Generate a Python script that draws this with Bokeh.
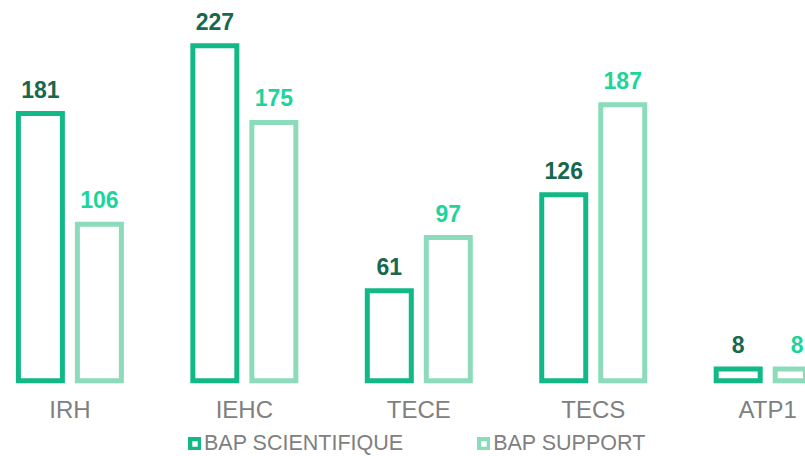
from bokeh.plotting import figure
from bokeh.models import ColumnDataSource, Range1d, Legend, LegendItem
from bokeh.core.properties import value
from bokeh.embed import file_html
from bokeh.resources import INLINE

categories = ["IRH", "IEHC", "TECE", "TECS", "ATP1"]
bap_scientifique = [181, 227, 61, 126, 8]
bap_support = [106, 175, 97, 187, 8]
series_names = ["BAP SCIENTIFIQUE", "BAP SUPPORT"]

SCI_LINE = "#12b886"
SCI_LABEL = "#17684d"
SUP_LINE = "#8cdcbb"
SUP_LABEL = "#1dd59b"
GRAY = "#808080"
FONT = "Liberation Sans"

xs = list(range(len(categories)))
off = 0.1691
bw = 0.2522

src_sci = ColumnDataSource(dict(x=[i - off for i in xs], top=bap_scientifique,
                                lab=[str(v) for v in bap_scientifique]))
src_sup = ColumnDataSource(dict(x=[i + off for i in xs], top=bap_support,
                                lab=[str(v) for v in bap_support]))
src_cat = ColumnDataSource(dict(x=xs, y=[0] * len(xs), t=categories))

p = figure(width=805, height=456, output_backend="svg", toolbar_location=None,
           x_range=Range1d(-0.3978, 4.2167), y_range=Range1d(-51.36, 257.6),
           min_border=0, min_border_left=0, min_border_right=0,
           min_border_top=0, min_border_bottom=0)
p.axis.visible = False
p.grid.visible = False
p.outline_line_color = None
p.background_fill_color = "white"
p.border_fill_color = "white"

r_sci = p.vbar(x="x", top="top", bottom=0, width=bw, source=src_sci,
               fill_color=None, line_color=SCI_LINE, line_width=5, line_join="miter")
r_sup = p.vbar(x="x", top="top", bottom=0, width=bw, source=src_sup,
               fill_color=None, line_color=SUP_LINE, line_width=5, line_join="miter")

p.text(x="x", y="top", text="lab", source=src_sci, text_align="center",
       text_baseline="alphabetic", y_offset=-24.5, text_font=value(FONT),
       text_font_size="23px", text_font_style="bold", text_color=SCI_LABEL)
p.text(x="x", y="top", text="lab", source=src_sup, text_align="center",
       text_baseline="alphabetic", y_offset=-24.5, text_font=value(FONT),
       text_font_size="23px", text_font_style="bold", text_color=SUP_LABEL)

p.text(x="x", y="y", text="t", source=src_cat, text_align="center",
       text_baseline="alphabetic", y_offset=28.5, text_font=value(FONT),
       text_font_size="24px", text_color=GRAY)

legend = Legend(items=[LegendItem(label=series_names[0], renderers=[r_sci]),
                       LegendItem(label=series_names[1], renderers=[r_sup])],
                orientation="horizontal", location=(188, 0),
                glyph_width=13, glyph_height=13, label_standoff=3, spacing=74,
                padding=0, margin=0, border_line_color=None,
                background_fill_alpha=0, label_text_font=FONT,
                label_text_font_size="21.5px", label_text_color=GRAY)
p.add_layout(legend)

open("out.html", "w").write(file_html(p, INLINE))
